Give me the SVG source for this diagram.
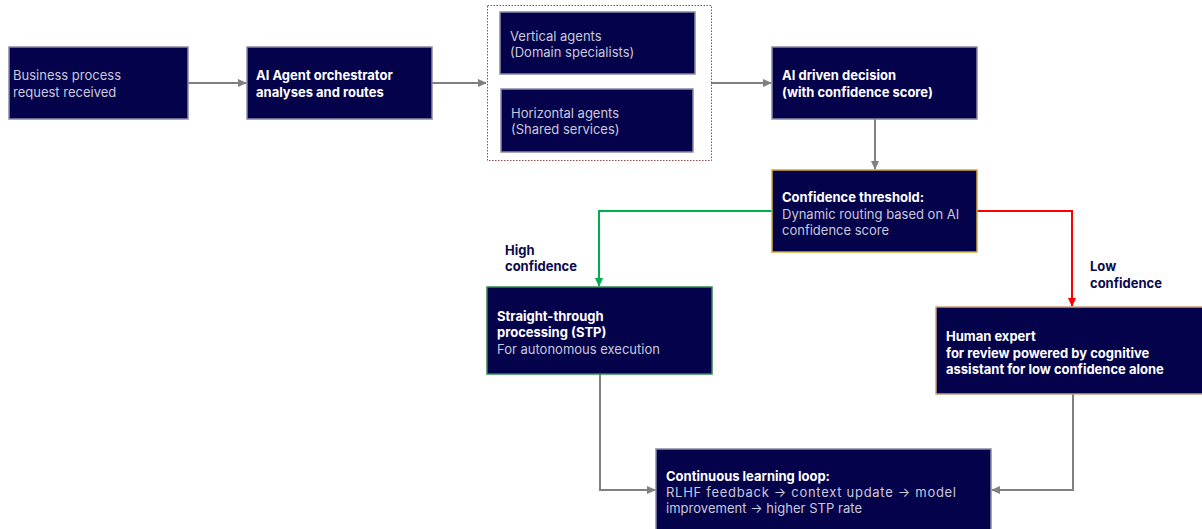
<svg xmlns="http://www.w3.org/2000/svg" width="1202" height="529" viewBox="0 0 1202 529">
<style>
.box{fill:#04024a;stroke:#8a8aa6;stroke-width:1.5}
.t{font-family:Inter,"Noto Sans","Liberation Sans",sans-serif;font-size:13px;fill:#c9c9dc}
.b{font-family:Inter,"Noto Sans","Liberation Sans",sans-serif;font-size:13px;font-weight:700;fill:#ffffff}
.lbl{font-family:Inter,"Noto Sans","Liberation Sans",sans-serif;font-size:13px;font-weight:700;fill:#0a0a4a}
.c{fill:none;stroke:#808080;stroke-width:2}
</style>
<defs>
<marker id="ag" markerWidth="10" markerHeight="10" refX="8" refY="5" orient="auto" markerUnits="userSpaceOnUse"><path d="M0,1 L9,5 L0,9 Z" fill="#808080"/></marker>
<marker id="agr" markerWidth="10" markerHeight="10" refX="8" refY="5" orient="auto" markerUnits="userSpaceOnUse"><path d="M0,1 L9,5 L0,9 Z" fill="#00b050"/></marker>
<marker id="ar" markerWidth="10" markerHeight="10" refX="8" refY="5" orient="auto" markerUnits="userSpaceOnUse"><path d="M0,1 L9,5 L0,9 Z" fill="#ff0000"/></marker>
</defs>
<rect width="1202" height="529" fill="#ffffff"/>
<g id="connectors">
<path class="c" d="M188,83 H246" marker-end="url(#ag)"/>
<path class="c" d="M432,83 H486" marker-end="url(#ag)"/>
<path class="c" d="M711,83 H771" marker-end="url(#ag)"/>
<path class="c" d="M875,119 V169" marker-end="url(#ag)"/>
<path fill="none" stroke="#00b050" stroke-width="2" d="M772,211 H599 V286" marker-end="url(#agr)"/>
<path fill="none" stroke="#ff0000" stroke-width="2" d="M977,211 H1072 V306" marker-end="url(#ar)"/>
<path class="c" d="M600,374 V490 H655" marker-end="url(#ag)"/>
<path class="c" d="M1073,394 V490 H992" marker-end="url(#ag)"/>
</g>
<g id="n1"><rect class="box" x="9" y="47" width="179" height="72"/>
<text class="t" x="13" y="80">Business process</text><text class="t" x="13" y="97">request received</text></g>
<g id="n2"><rect class="box" x="247" y="47" width="185" height="72"/>
<text class="b" x="256" y="80">AI Agent orchestrator</text><text class="b" x="256" y="97">analyses and routes</text></g>
<g id="group"><rect x="487.5" y="5.5" width="224" height="155" fill="none" stroke="#8b4a4a" stroke-width="1" stroke-dasharray="1.5,1.5"/></g>
<g id="n3"><rect class="box" x="500" y="12" width="195" height="62"/>
<text class="t" x="510" y="41">Vertical agents</text><text class="t" x="510" y="57">(Domain specialists)</text></g>
<g id="n4"><rect class="box" x="501" y="89" width="192" height="63"/>
<text class="t" x="511" y="118">Horizontal agents</text><text class="t" x="511" y="134">(Shared services)</text></g>
<g id="n5"><rect class="box" x="772" y="47" width="205" height="72"/>
<text class="b" x="782" y="80">AI driven decision</text><text class="b" x="782" y="97">(with confidence score)</text></g>
<g id="n6"><rect class="box" x="772" y="170" width="205" height="82" style="stroke:#d4a934"/>
<text class="b" x="782" y="202">Confidence threshold:</text><text class="t" x="782" y="219">Dynamic routing based on AI</text><text class="t" x="782" y="235">confidence score</text></g>
<g id="n7"><rect class="box" x="487" y="287" width="225" height="87" style="stroke:#2e8b4e"/>
<text class="b" x="497" y="321">Straight-through</text><text class="b" x="497" y="337">processing (STP)</text><text class="t" x="497" y="354">For autonomous execution</text></g>
<g id="n8"><rect class="box" x="936" y="307" width="270" height="87" style="stroke:#c9a07a"/>
<text class="b" x="946" y="341">Human expert</text><text class="b" x="946" y="358">for review powered by cognitive</text><text class="b" x="946" y="374">assistant for low confidence alone</text></g>
<g id="n9"><rect class="box" x="656" y="449" width="335" height="85"/>
<text class="b" x="666" y="481">Continuous learning loop:</text><text class="t" x="666" y="497" textLength="290">RLHF feedback → context update → model</text><text class="t" x="666" y="513" textLength="196">improvement → higher STP rate</text></g>
<g id="labels">
<text class="lbl" x="505" y="255">High</text><text class="lbl" x="505" y="271">confidence</text>
<text class="lbl" x="1090" y="271">Low</text><text class="lbl" x="1090" y="288">confidence</text>
</g>
</svg>
